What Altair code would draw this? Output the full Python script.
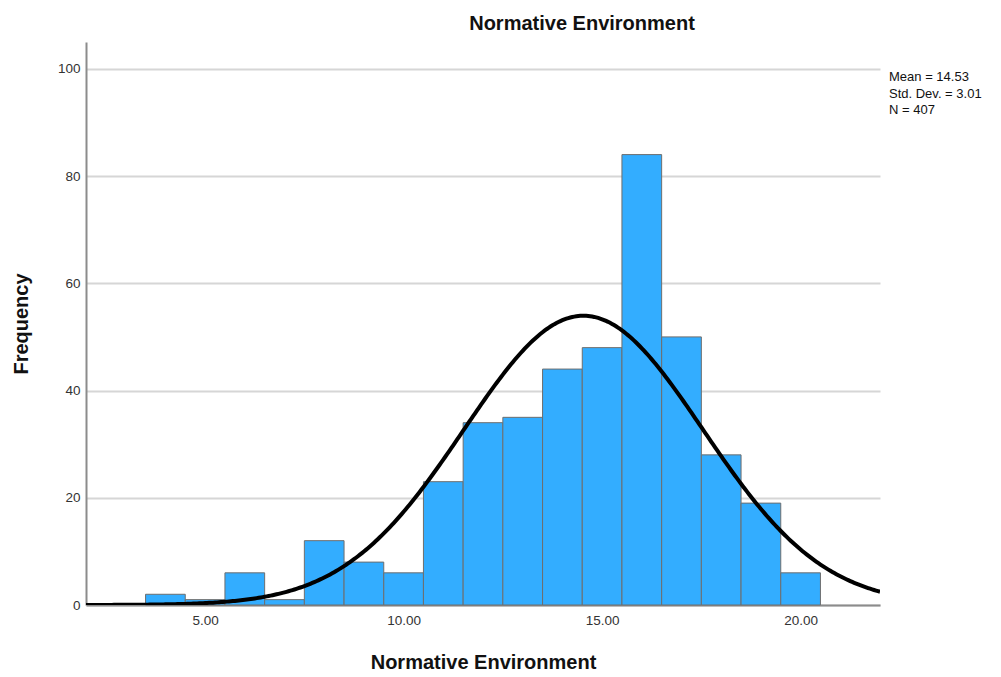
import altair as alt
import pandas as pd

# Histogram of the "Normative Environment" score (unit-wide bins centred on integers)
scores = [4, 5, 6, 7, 8, 9, 10, 11, 12, 13, 14, 15, 16, 17, 18, 19, 20]
counts = [2, 1, 6, 1, 12, 8, 6, 23, 34, 35, 44, 48, 84, 50, 28, 19, 6]

# Summary statistics shown beside the plot and used for the fitted normal curve
MEAN = 14.53
STD_DEV = 3.01
N = 407
BIN_WIDTH = 1.0

x_ticks = [5, 10, 15, 20]
y_ticks = [0, 20, 40, 60, 80, 100]
X_DOMAIN = [2, 22]
Y_DOMAIN = [0, 105]

FONT = "Liberation Sans"
BAR_FILL = "#33adff"
BAR_EDGE = "#6e6e6e"

hist = pd.DataFrame({
    "start": [s - BIN_WIDTH / 2 for s in scores],
    "end": [s + BIN_WIDTH / 2 for s in scores],
    "count": counts,
})

x_scale = alt.Scale(domain=X_DOMAIN, nice=False, zero=False)
y_scale = alt.Scale(domain=Y_DOMAIN, nice=False)

x_axis = alt.Axis(
    values=x_ticks, format=".2f", ticks=False, grid=False,
    labelFont=FONT, labelFontSize=13.5, labelColor="#333333", labelPadding=8,
    domainColor="#8c8c8c", domainWidth=2,
    title="Normative Environment", titleFont=FONT, titleFontSize=20,
    titleFontWeight="bold", titleColor="#111111", titlePadding=26,
)
y_axis = alt.Axis(
    values=y_ticks, ticks=False, grid=True, gridColor="#d6d6d6", gridWidth=2,
    labelFont=FONT, labelFontSize=13.5, labelColor="#333333", labelPadding=6,
    domainColor="#8c8c8c", domainWidth=2,
    title="Frequency", titleFont=FONT, titleFontSize=20,
    titleFontWeight="bold", titleColor="#111111", titlePadding=26,
)

bars = alt.Chart(hist).mark_rect(
    fill=BAR_FILL, stroke=BAR_EDGE, strokeWidth=1
).encode(
    x=alt.X("start:Q", scale=x_scale, axis=x_axis),
    x2="end:Q",
    y=alt.Y("count:Q", scale=y_scale, axis=y_axis),
    y2=alt.datum(0),
)

# Normal curve fitted from the stated mean, standard deviation and N
curve = alt.Chart(alt.sequence(X_DOMAIN[0], X_DOMAIN[1] + 0.01, 0.05, as_="x")).transform_calculate(
    freq=f"{N * BIN_WIDTH} * exp(-0.5 * pow((datum.x - {MEAN}) / {STD_DEV}, 2)) / ({STD_DEV} * sqrt(2 * PI))"
).mark_line(color="black", strokeWidth=4, clip=True).encode(
    x=alt.X("x:Q", scale=x_scale),
    y=alt.Y("freq:Q", scale=y_scale),
)

stats_text = [f"Mean = {MEAN:.2f}", f"Std. Dev. = {STD_DEV:.2f}", f"N = {N}"]
note = alt.Chart(pd.DataFrame({"k": [0]})).mark_text(
    text=stats_text, align="left", baseline="top", font=FONT,
    fontSize=13, lineHeight=16.5, color="#111111",
).encode(x=alt.value(803), y=alt.value(29))

chart = alt.layer(bars, curve, note).properties(
    width=794,
    height=563,
    padding={"left": 86, "top": 42, "right": 121, "bottom": 72},
    autosize=alt.AutoSizeParams(type="none"),
    title=alt.TitleParams(
        "Normative Environment", font=FONT, fontSize=20, fontWeight="bold",
        color="#111111", anchor="middle", dx=99, offset=8,
    ),
).configure_view(stroke=None)

chart.save("out.html", embed_options={"renderer": "svg", "actions": False})
